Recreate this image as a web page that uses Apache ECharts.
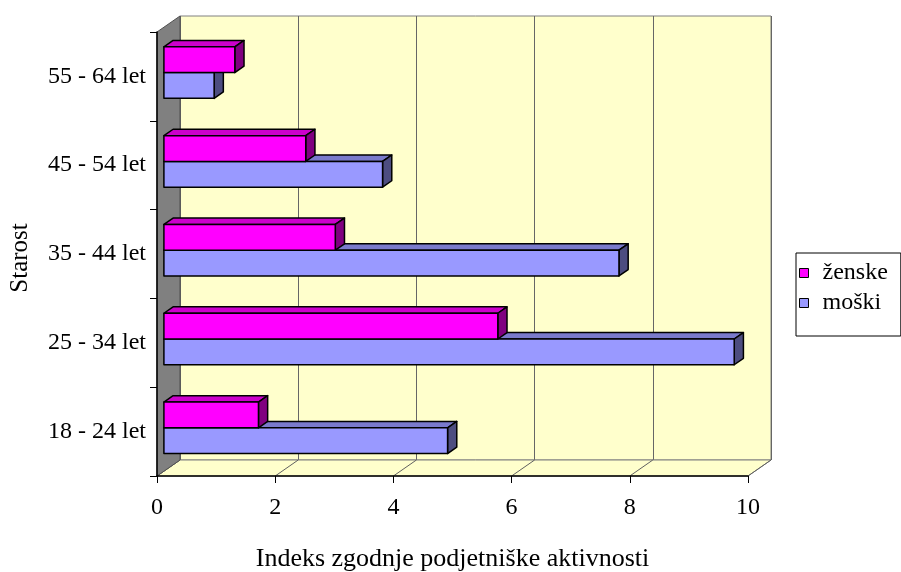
<!DOCTYPE html>
<html><head><meta charset="utf-8">
<script src="https://cdn.jsdelivr.net/npm/echarts@6/dist/echarts.min.js"></script>
<style>html,body{margin:0;padding:0;background:#fff}#c{width:901px;height:572px}</style>
</head><body><div id="c"></div>
<script>
// ---- data ----
const categories = ['18 - 24 let', '25 - 34 let', '35 - 44 let', '45 - 54 let', '55 - 64 let'];
const zenske = [1.6, 5.65, 2.9, 2.4, 1.2];
const moski = [4.8, 9.65, 7.7, 3.7, 0.85];
const xTicks = [0, 2, 4, 6, 8, 10];
const seriesNames = ['ženske', 'moški'];
const xTitle = 'Indeks zgodnje podjetniške aktivnosti';
const yTitle = 'Starost';

// ---- style ----
const FONT = '"Liberation Serif","Times New Roman",serif';
const DEPTH = [23, -16];
const BAR_FRONT = 0.3, BAR_BACK = 0.7, BAR_H = 0.29;
const colors = {
  'ženske': { front: '#FF00FF', top: '#CC00CC', side: '#800080' },
  'moški': { front: '#9999FF', top: '#7A7ACC', side: '#4D4D80' }
};

function barRender(upper, col) {
  return function (params, api) {
    const v = api.value(0), c = api.value(1);
    const p0 = api.coord([0, c]);
    const p1 = api.coord([v, c]);
    const band = api.size([0, 1])[1];
    const h = band * BAR_H;
    const fx = DEPTH[0] * BAR_FRONT, fy = DEPTH[1] * BAR_FRONT;
    const bx = DEPTH[0] * BAR_BACK, by = DEPTH[1] * BAR_BACK;
    const yT = (upper ? p0[1] - h : p0[1]) + fy + 1;
    const x0 = p0[0] + fx, x1 = p1[0] + fx;
    const dx = bx - fx, dy = by - fy;
    const st = { stroke: '#000', lineWidth: 1.5, lineJoin: 'round' };
    return {
      type: 'group',
      children: [
        { type: 'polygon', shape: { points: [[x0, yT], [x1, yT], [x1 + dx, yT + dy], [x0 + dx, yT + dy]] },
          style: Object.assign({ fill: col.top }, st) },
        { type: 'polygon', shape: { points: [[x1, yT], [x1 + dx, yT + dy], [x1 + dx, yT + h + dy], [x1, yT + h]] },
          style: Object.assign({ fill: col.side }, st) },
        { type: 'rect', shape: { x: x0, y: yT, width: x1 - x0, height: h },
          style: Object.assign({ fill: col.front }, st) }
      ]
    };
  };
}

function wallRender(params, api) {
  const cs = params.coordSys;
  const L = cs.x, T = cs.y, B = cs.y + cs.height, R = cs.x + cs.width;
  const dx = DEPTH[0], dy = DEPTH[1];
  const children = [
    { type: 'polygon', shape: { points: [[L, B], [R, B], [R + dx, B + dy], [L + dx, B + dy]] },
      style: { fill: '#FFFFCC', stroke: '#808080', lineWidth: 1 } }
  ];
  xTicks.forEach(function (t) {
    const x = api.coord([t, 0])[0];
    children.push({ type: 'line', shape: { x1: x, y1: B, x2: x + dx, y2: B + dy },
      style: { stroke: '#606060', lineWidth: 1 } });
  });
  children.push({ type: 'polygon', shape: { points: [[L, T], [L + dx, T + dy], [L + dx, B + dy], [L, B]] },
    style: { fill: '#808080', stroke: '#505050', lineWidth: 1 } });
  return { type: 'group', children: children };
}

const chart = echarts.init(document.getElementById('c'), null, { renderer: 'canvas' });
const frontGrid = { left: 157, top: 32, width: 591, height: 444, outerBoundsMode: 'none', containLabel: false };
chart.setOption({
  animation: false,
  textStyle: { fontFamily: FONT, color: '#000' },
  grid: [
    frontGrid,
    { left: frontGrid.left + DEPTH[0], top: frontGrid.top + DEPTH[1], width: frontGrid.width, height: frontGrid.height,
      outerBoundsMode: 'none', containLabel: false,
      show: true, backgroundColor: '#FFFFCC', borderColor: '#808080', borderWidth: 1 }
  ],
  legend: {
    orient: 'vertical', left: 796, top: 253,
    data: seriesNames,
    backgroundColor: '#fff', borderColor: '#000', borderWidth: 1,
    padding: [8, 13, 21, 3], itemWidth: 9, itemHeight: 9, itemGap: 6,
    icon: 'rect',
    itemStyle: { borderColor: '#000', borderWidth: 1 },
    textStyle: { fontFamily: FONT, fontSize: 24, color: '#000', padding: [0, 0, 0, 9] }
  },
  xAxis: [
    { type: 'value', gridIndex: 0, min: 0, max: 10, interval: 2, z: 5,
      axisLine: { show: true, lineStyle: { color: '#000', width: 1.5 } },
      axisTick: { show: true, length: 7, lineStyle: { color: '#000' } },
      axisLabel: { fontFamily: FONT, fontSize: 24, color: '#000', margin: 20 },
      splitLine: { show: false },
      name: xTitle, nameLocation: 'middle', nameGap: 70,
      nameTextStyle: { fontFamily: FONT, fontSize: 26, color: '#000' } },
    { type: 'value', gridIndex: 1, min: 0, max: 10, interval: 2,
      axisLine: { show: false }, axisTick: { show: false }, axisLabel: { show: false },
      splitLine: { show: true, lineStyle: { color: '#666666', width: 1 } } }
  ],
  yAxis: [
    { type: 'category', gridIndex: 0, data: categories, z: 5,
      axisLine: { show: true, lineStyle: { color: '#000', width: 1.5 } },
      axisTick: { show: true, length: 7, lineStyle: { color: '#000' } },
      axisLabel: { fontFamily: FONT, fontSize: 24, color: '#000', margin: 11, padding: [8, 0, 0, 0] },
      name: yTitle, nameLocation: 'middle', nameGap: 124,
      nameTextStyle: { fontFamily: FONT, fontSize: 25, color: '#000', padding: [0, 8, 0, 0] } },
    { type: 'value', gridIndex: 1, show: false }
  ],
  series: [
    { type: 'custom', name: '_walls', xAxisIndex: 0, yAxisIndex: 0, z: 1, silent: true,
      renderItem: wallRender, data: [[0, 0]], encode: { x: 0, y: 1 } },
    { type: 'custom', name: seriesNames[1], xAxisIndex: 0, yAxisIndex: 0, z: 2,
      itemStyle: { color: colors['moški'].front },
      renderItem: barRender(false, colors['moški']),
      data: moski.map(function (v, i) { return [v, i]; }), encode: { x: 0, y: 1 } },
    { type: 'custom', name: seriesNames[0], xAxisIndex: 0, yAxisIndex: 0, z: 3,
      itemStyle: { color: colors['ženske'].front },
      renderItem: barRender(true, colors['ženske']),
      data: zenske.map(function (v, i) { return [v, i]; }), encode: { x: 0, y: 1 } }
  ]
});
</script>
</body></html>
